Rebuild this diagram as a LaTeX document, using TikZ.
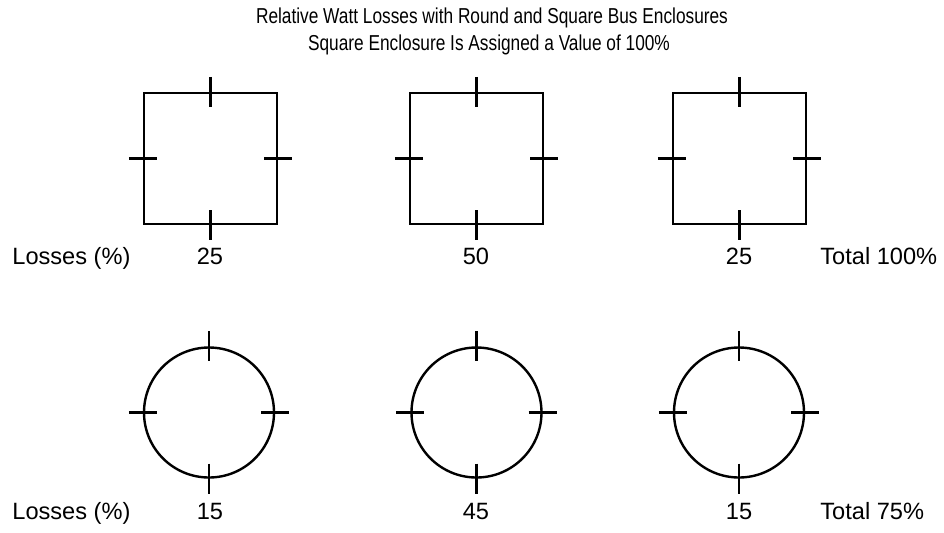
\documentclass[tikz,border=0pt]{standalone}
\usepackage{fontspec}
\setmainfont{Liberation Sans}
\newfontfamily\narrowfont{Liberation Sans}[FakeStretch=0.80]
\usetikzlibrary{positioning}

\begin{document}
\begin{tikzpicture}[x=0.5pt, y=-0.5pt,
            sqencl/.style={rectangle, draw, line width=1.2pt, inner sep=0pt,
                           minimum width=66.5pt, minimum height=65.5pt},
            rdencl/.style={circle, draw, line width=1.2pt, inner sep=0pt,
                           minimum size=65pt},
            tick/.style={line width=1.2pt},
            lbl/.style={font=\fontsize{11.8pt}{14pt}\selectfont, inner sep=0pt, anchor=base},
            ttl/.style={font=\narrowfont\fontsize{10.8pt}{12.5pt}\selectfont, inner sep=0pt, anchor=base}
        ]
            \useasboundingbox (0,0) rectangle (944,532);

            \node[ttl] (title1) at (492,23) {Relative Watt Losses with Round and Square Bus Enclosures};
            \node[ttl] (title2) at (489,50) {Square Enclosure Is Assigned a Value of 100\%};

            % square enclosures
            \node[sqencl] (sqA) at (210.5,158.5) {};
            \node[sqencl] (sqB) at (476.5,158.5) {};
            \node[sqencl] (sqC) at (739.5,158.5) {};

            % round enclosures
            \node[rdencl] (rdA) at (209,412.5) {};
            \node[rdencl] (rdB) at (476.5,412.5) {};
            \node[rdencl] (rdC) at (739,412.5) {};

            \foreach \n in {sqA,sqB,sqC,rdA,rdB,rdC} {
                \draw[tick] ([yshift=7.5pt]\n.north) -- ([yshift=-7.5pt]\n.north);
                \draw[tick] ([yshift=7.5pt]\n.south) -- ([yshift=-7.5pt]\n.south);
                \draw[tick] ([xshift=-7pt]\n.west) -- ([xshift=7pt]\n.west);
                \draw[tick] ([xshift=-7pt]\n.east) -- ([xshift=7pt]\n.east);
            }

            \node[lbl, anchor=base west] (lossSq) at (12,264) {Losses (\%)};
            \node[lbl] (valSqA) at (210,264) {25};
            \node[lbl] (valSqB) at (476,264) {50};
            \node[lbl] (valSqC) at (739,264) {25};
            \node[lbl, anchor=base west] (totSq) at (820,264) {Total 100\%};

            \node[lbl, anchor=base west] (lossRd) at (12,519) {Losses (\%)};
            \node[lbl] (valRdA) at (210,519) {15};
            \node[lbl] (valRdB) at (476,519) {45};
            \node[lbl] (valRdC) at (739,519) {15};
            \node[lbl, anchor=base west] (totRd) at (820,519) {Total 75\%};
        \end{tikzpicture}
\end{document}
